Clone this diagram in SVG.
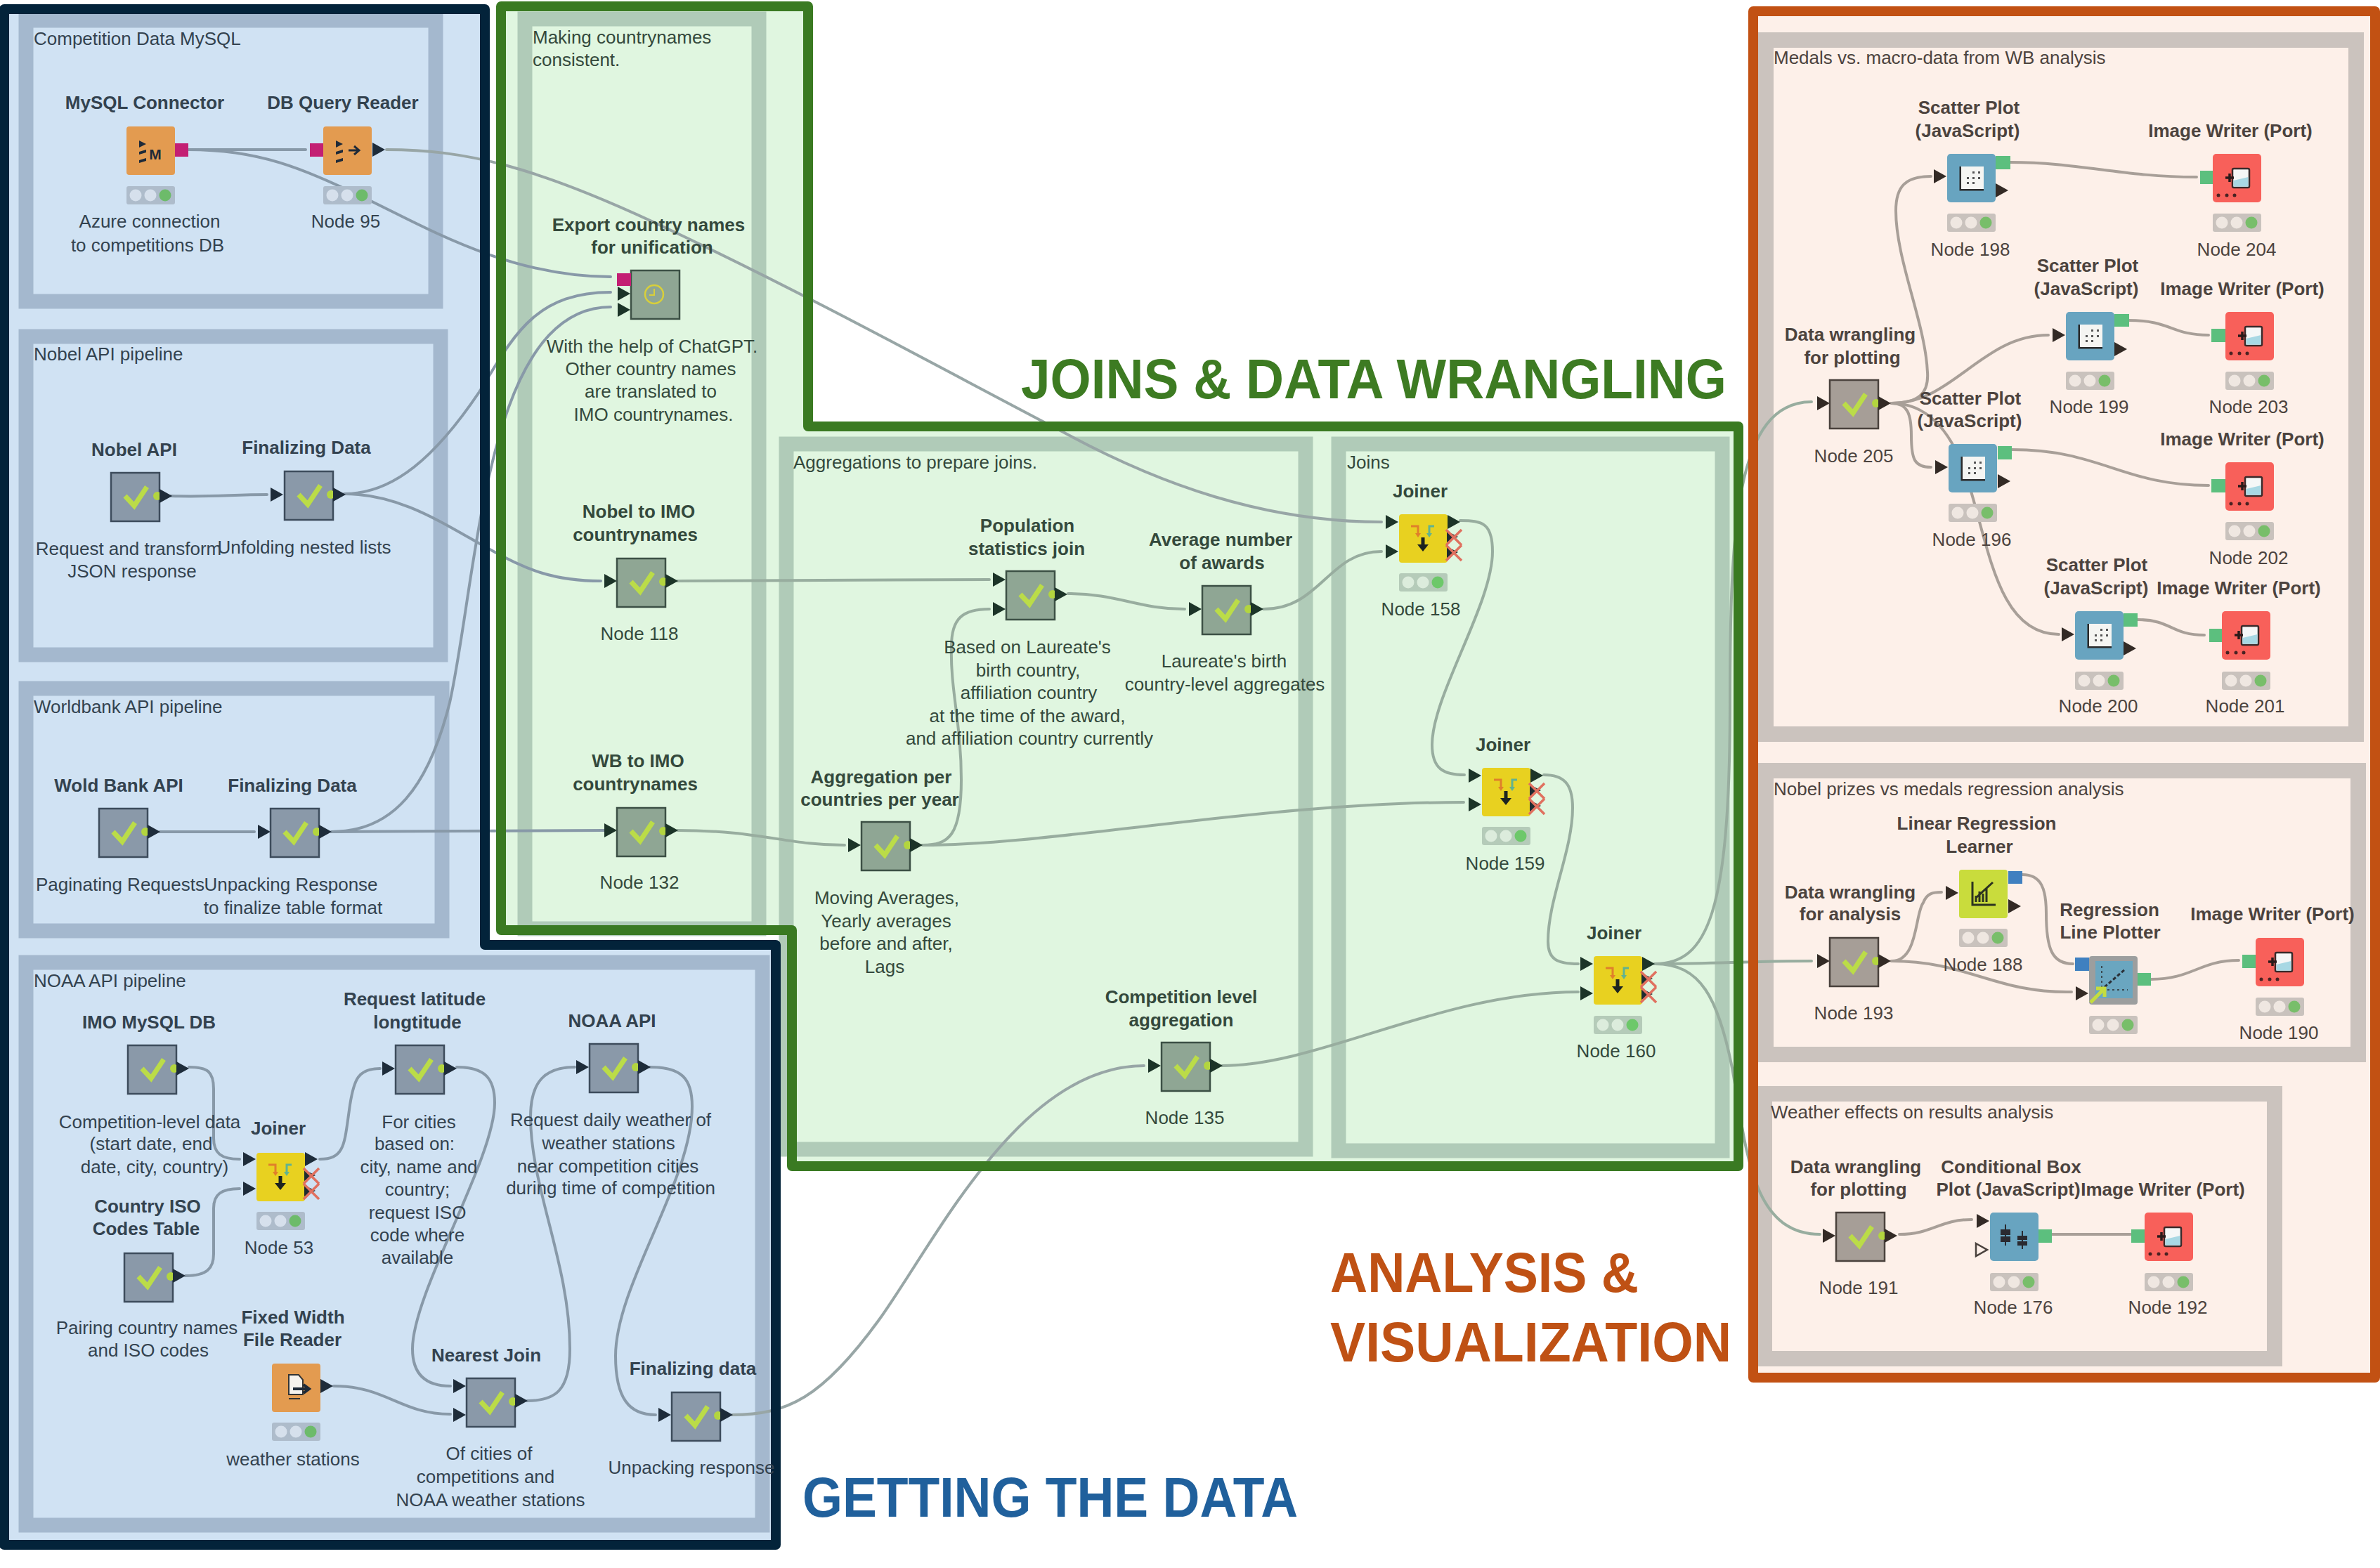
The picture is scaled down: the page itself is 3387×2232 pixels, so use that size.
<svg xmlns="http://www.w3.org/2000/svg" width="3387" height="2232" viewBox="0 0 3387 2232">
<style>
text{font-family:"Liberation Sans",Arial,sans-serif;font-size:26px;text-anchor:middle}
.b{font-weight:700}
.l{text-anchor:start}
.nb{--body:#8a99a9;--lamp:#aebccb;--off:#d6e0ec;--tri:#1e2c3a;--bd:#3d4c5c;--go:#6dbb6a}
.ng{--body:#8fa694;--lamp:#b5cbb9;--off:#dcecdc;--tri:#1c3428;--bd:#3c5045;--go:#6dc86a}
.no{--body:#a69e97;--lamp:#c9c2bd;--off:#efe7e1;--tri:#332a25;--bd:#4a423d;--go:#78be6a}
.nb text,.tb{fill:#33424f}
.ng text,.tg{fill:#34493c}
.no text,.to{fill:#4c433e}
.fb{fill:none;stroke:#a4b8ce;stroke-width:21}
.fg{fill:none;stroke:#b0cbb8;stroke-width:21}
.fo{fill:none;stroke:#cbc3be;stroke-width:22}
.c path{fill:none;stroke-width:4;stroke-linecap:round}
.cb path{stroke:#8899a8}
.cl path{stroke:#98a6a6}
.cg path{stroke:#98ad9f}
.co path{stroke:#a89f98}
.bn{fill:none;stroke:#03233a;stroke-width:14;stroke-linejoin:round}
.bg{fill:none;stroke:#3a7a22;stroke-width:14;stroke-linejoin:round}
.bo{fill:none;stroke:#c25113;stroke-width:14;stroke-linejoin:round}
.pm{fill:#c31f73}
.pg{fill:#5cbf7e}
.pb{fill:#3f80c0}
.big{font-family:"Liberation Sans",Arial,sans-serif;font-weight:700;font-size:80px;text-anchor:start}
#ti polygon{fill:var(--tri)}
#meta rect{fill:var(--body);stroke:var(--bd);stroke-width:2.5}
#lamp rect{fill:var(--lamp)}
#lamp .o{fill:var(--off)}
#lamp .g{fill:var(--go)}
</style>
<defs>
<g id="ti"><polygon points="0,-10 18,0 0,10"/></g>
<g id="hollow"><polygon points="1,-9 17,0 1,9" fill="none" stroke="#4a423d" stroke-width="2.5"/></g>
<g id="meta">
<rect width="69" height="69"/>
<path d="M20,33 L33,47 L51,20" fill="none" stroke="#bbdc48" stroke-width="7"/>
<circle cx="66" cy="33" r="6" fill="#b3d53f"/>
</g>
<g id="lamp"><rect width="69" height="26" rx="3"/><circle class="o" cx="13" cy="13" r="8.5"/><circle class="o" cx="34" cy="13" r="8.5"/><circle class="g" cx="55" cy="13" r="8.5"/></g>
<g id="dbconn"><rect width="69" height="69" rx="4" fill="#e39b50"/><path d="M18,20 l10,5 l-10,5z M18,36 l10,-3 v4 l-10,3z M18,48 l10,-3 v4 l-10,3z" fill="#1f2a38"/><text x="41" y="47" style="font-size:21px;font-weight:700;fill:#1f2a38">M</text></g>
<g id="dbread"><rect width="69" height="69" rx="4" fill="#e39b50"/><path d="M18,20 l10,5 l-10,5z M18,36 l10,-3 v4 l-10,3z M18,48 l10,-3 v4 l-10,3z" fill="#1f2a38"/><path d="M36,34 H50 M44,28 l7,6 l-7,6" fill="none" stroke="#1f2a38" stroke-width="3"/></g>
<g id="fixed"><rect width="69" height="69" rx="4" fill="#e39b50"/><path d="M24,16 H38 L44,23 V44 H24Z" fill="#f6f3ee" stroke="#333" stroke-width="2"/><path d="M30,36 H52 M45,30 l8,6 l-8,6" fill="none" stroke="#1f2a38" stroke-width="4"/><path d="M24,50 H40" stroke="#333" stroke-width="2"/></g>
<g id="clock"><rect width="69" height="69" fill="#8fa694" stroke="#3c5045" stroke-width="2.5"/><circle cx="33" cy="34" r="13" fill="none" stroke="#d8cf3a" stroke-width="2.5"/><path d="M33,26 V35 H26" fill="none" stroke="#d8cf3a" stroke-width="2"/></g>
<g id="joiner"><rect width="69" height="69" rx="4" fill="#e8d120"/><path d="M17,17 H27 V28" fill="none" stroke="#e0802a" stroke-width="3"/><path d="M23,27 h8 l-4,6z" fill="#e0802a"/><path d="M50,17 H43 V28" fill="none" stroke="#62b38f" stroke-width="3"/><path d="M39,27 h8 l-4,6z" fill="#62b38f"/><path d="M34,33 V45" stroke="#1c2320" stroke-width="5"/><path d="M26,43 H42 L34,53Z" fill="#1c2320"/><path d="M68,24 L84,32 L68,40z M68,46 L84,54 L68,62z" fill="#1e2c30"/><path d="M67,22 L89,44 M89,22 L67,44 M67,44 L89,66 M89,44 L67,66" stroke="#e0705f" stroke-width="3.5" fill="none"/></g>
<g id="scatter"><rect width="69" height="69" rx="5" fill="#68a4c0"/><path d="M19,18 V51 H52" fill="none" stroke="#2a2a2a" stroke-width="3"/><rect x="20" y="18" width="32" height="32" fill="#f5f5f2"/><path d="M36,25h3v3h-3z M44,25h3v3h-3z M28,33h3v3h-3z M36,33h3v3h-3z M44,33h3v3h-3z M28,40h3v3h-3z M36,40h3v3h-3z" fill="#555"/></g>
<g id="writer"><rect width="69" height="69" rx="5" fill="#f8605a"/><rect x="28" y="21" width="24" height="27" rx="2" fill="#f5f7f7" stroke="#3a2a2a" stroke-width="2.5"/><path d="M29.5,38 L50.5,33 V46.5 H29.5Z" fill="#a8d8e4"/><path d="M18,34 H30 M24,28 V40" stroke="#2a1a1a" stroke-width="3.5"/><circle cx="8" cy="59" r="2.5" fill="#4a2222"/><circle cx="20" cy="59" r="2.5" fill="#4a2222"/><circle cx="31" cy="59" r="2.5" fill="#4a2222"/></g>
<g id="linreg"><rect width="69" height="69" rx="4" fill="#c9dc3c"/><path d="M19,17 V50 H52" fill="none" stroke="#2c3320" stroke-width="3"/><path d="M24,46 V37 M29,46 V31 M34,46 V34 M39,46 V26 M24,40 L48,18" fill="none" stroke="#2c3320" stroke-width="3"/></g>
<g id="plotter"><rect width="69" height="69" rx="4" fill="#9c9e9e"/><rect x="9" y="7" width="53" height="53" fill="#6aa6c0"/><path d="M18,14 V48 H55" fill="none" stroke="#3a4a52" stroke-width="2" stroke-dasharray="3 4"/><path d="M22,44 L52,18" stroke="#2a3038" stroke-width="3" stroke-dasharray="5 3"/><path d="M2,66 L20,48 M10,46 H22 V58" fill="none" stroke="#c4dc40" stroke-width="5"/></g>
<g id="box"><rect width="69" height="69" rx="5" fill="#68a4c0"/><path d="M22,17 V47 M46,26 V52" stroke="#2a2a30" stroke-width="2"/><rect x="15" y="24" width="14" height="8" fill="#2a2a30"/><rect x="15" y="34" width="14" height="8" fill="#2a2a30"/><rect x="39" y="33" width="14" height="6" fill="#2a2a30"/><rect x="39" y="41" width="14" height="6" fill="#2a2a30"/></g>
</defs>

<g id="panels">
<path d="M6,13 H690 V1345 H1104 V2199 H6Z" fill="#d0e2f3"/>
<path d="M713,9 H1150 V607 H2474 V1660 H1127 V1324 H713Z" fill="#e0f6e0"/>
<path d="M2495,16 H3380 V1961 H2495Z" fill="#fdf0e9"/>
<rect class="fb" x="37" y="29" width="583" height="400"/>
<rect class="fb" x="37" y="479" width="590" height="453"/>
<rect class="fb" x="37" y="980" width="592" height="345"/>
<rect class="fb" x="37" y="1370" width="1048" height="801"/>
<rect class="fg" x="747" y="27" width="333" height="1295"/>
<rect class="fg" x="1119" y="632" width="739" height="1004"/>
<rect class="fg" x="1905" y="632" width="546" height="1006"/>
<rect class="fo" x="2513" y="57" width="840" height="988"/>
<rect class="fo" x="2513" y="1097" width="843" height="404"/>
<rect class="fo" x="2511" y="1557" width="726" height="377"/>
<text class="l tb" x="48" y="64">Competition Data MySQL</text>
<text class="l tb" x="48" y="513">Nobel API pipeline</text>
<text class="l tb" x="48" y="1015">Worldbank API pipeline</text>
<text class="l tb" x="48" y="1405">NOAA API pipeline</text>
<text class="l tg" x="758" y="62">Making countrynames</text>
<text class="l tg" x="758" y="94">consistent.</text>
<text class="l tg" x="1129" y="667">Aggregations to prepare joins.</text>
<text class="l tg" x="1917" y="667">Joins</text>
<text class="l to" x="2524" y="91">Medals vs. macro-data from WB analysis</text>
<text class="l to" x="2524" y="1132">Nobel prizes vs medals regression analysis</text>
<text class="l to" x="2520" y="1592">Weather effects on results analysis</text>
</g>

<g id="connectors" class="c">
<g class="cb">
<path d="M268,213 L435,213"/>
<path d="M268,213 C370,213 430,240 513,279 C600,320 720,394 869,394"/>
<path d="M243,706 C300,708 330,704 380,704"/>
<path d="M490,703 C560,703 620,650 682,558 C730,480 760,416 869,416"/>
<path d="M472,1184 C560,1184 610,1120 640,1000 C680,820 690,437 869,437"/>
<path d="M490,703 C570,703 630,745 697,782 C750,812 790,827 855,827"/>
<path d="M472,1184 L860,1182"/>
<path d="M227,1184 L362,1184"/>
<path d="M269,1519 C295,1519 304,1525 304,1550 L304,1620 C304,1642 315,1650 341,1650"/>
<path d="M264,1816 C295,1816 304,1805 304,1785 L304,1720 C304,1700 315,1692 341,1692"/>
<path d="M455,1650 C490,1650 490,1630 497,1580 C503,1535 510,1521 541,1521"/>
<path d="M650,1519 C690,1519 704,1535 704,1570 C704,1650 587,1840 587,1920 C587,1955 605,1973 641,1973"/>
<path d="M750,1994 C790,1994 811,1980 811,1920 C811,1800 755,1690 755,1590 C755,1540 775,1519 818,1519"/>
<path d="M925,1519 C970,1519 985,1535 985,1575 C985,1680 876,1830 876,1930 C876,1990 895,2014 933,2014"/>
<path d="M475,1973 C550,1973 570,2013 641,2013"/>
</g>
<g class="cl">
<path d="M550,213 C660,213 760,235 953,327 C1150,420 1350,530 1511,614 C1650,690 1800,743 1966,743"/>
<path d="M1042,2014 C1120,2014 1170,1990 1250,1880 C1330,1770 1450,1517 1628,1517"/>
</g>
<g class="cg">
<path d="M964,827 L1408,825"/>
<path d="M964,1182 C1080,1182 1120,1203 1202,1203"/>
<path d="M1313,1203 C1350,1203 1368,1190 1368,1110 C1368,1030 1352,980 1354,920 C1354,880 1370,867 1408,867"/>
<path d="M1313,1203 C1500,1203 1800,1142 2083,1142"/>
<path d="M1520,845 C1590,845 1620,867 1686,867"/>
<path d="M1798,867 C1880,867 1890,785 1966,785"/>
<path d="M2078,741 C2110,741 2124,745 2124,785 C2124,860 2038,990 2038,1060 C2038,1095 2055,1103 2084,1103"/>
<path d="M2197,1103 C2225,1103 2238,1115 2238,1150 C2238,1210 2203,1280 2203,1340 C2203,1365 2215,1372 2246,1372"/>
<path d="M1739,1517 C1880,1517 2050,1412 2246,1412"/>
<path d="M2355,1372 C2430,1372 2462,1300 2462,1000 C2462,750 2470,572 2578,572"/>
<path d="M2355,1372 C2450,1372 2480,1368 2578,1368"/>
<path d="M2355,1372 C2420,1372 2445,1420 2465,1520 C2485,1630 2490,1757 2590,1757"/>
</g>
<g class="co">
<path d="M2692,574 C2730,574 2745,560 2743,530 C2740,460 2698,370 2698,300 C2698,265 2712,251 2748,251"/>
<path d="M2692,574 C2780,574 2820,477 2915,477"/>
<path d="M2692,574 C2715,574 2720,590 2720,620 C2720,655 2725,665 2748,665"/>
<path d="M2692,574 C2740,574 2775,610 2797,674 C2830,770 2840,903 2930,903"/>
<path d="M2861,231 C2960,231 3020,252 3126,252"/>
<path d="M3029,456 C3090,456 3090,477 3143,477"/>
<path d="M2863,640 C2990,640 3020,691 3143,691"/>
<path d="M3042,882 C3090,882 3090,904 3137,904"/>
<path d="M2692,1368 C2730,1368 2725,1300 2737,1285 C2742,1272 2750,1270 2763,1270"/>
<path d="M2692,1368 C2800,1368 2840,1414 2948,1412"/>
<path d="M2878,1245 C2905,1245 2912,1265 2912,1300 C2912,1350 2920,1372 2950,1372"/>
<path d="M3061,1394 C3120,1394 3130,1367 3186,1367"/>
<path d="M2703,1757 C2750,1757 2760,1736 2806,1736"/>
<path d="M2920,1757 L3032,1757"/>
</g>
</g>

<g id="borders">
<path class="bn" d="M6,13 H690 V1345 H1104 V2199 H6Z"/>
<path class="bg" d="M713,9 H1150 V607 H2474 V1660 H1127 V1324 H713Z"/>
<path class="bo" d="M2495,16 H3380 V1961 H2495Z"/>
</g>

<g id="n-mysql-connector" class="nb"><use href="#dbconn" x="180" y="180"/><use href="#lamp" x="180" y="265"/><rect class="pm" x="249" y="204" width="19" height="19"/>
<text class="b" x="206" y="155">MySQL Connector</text><text x="213" y="324">Azure connection</text><text x="210" y="358">to competitions DB</text></g>
<g id="n-db-query-reader" class="nb"><use href="#dbread" x="460" y="180"/><use href="#lamp" x="460" y="265"/><rect class="pm" x="441" y="204" width="19" height="19"/><use href="#ti" x="530" y="213"/>
<text class="b" x="488" y="155">DB Query Reader</text><text x="492" y="324">Node 95</text></g>
<g id="n-nobel-api" class="nb"><use href="#meta" x="158" y="673"/><use href="#ti" x="227" y="706"/>
<text class="b" x="191" y="649">Nobel API</text><text x="183" y="790">Request and transform</text><text x="188" y="822">JSON response</text></g>
<g id="n-finalizing-nobel" class="nb"><use href="#ti" x="385" y="704"/><use href="#meta" x="405" y="671"/><use href="#ti" x="474" y="704"/>
<text class="b" x="436" y="646">Finalizing Data</text><text x="433" y="788">Unfolding nested lists</text></g>
<g id="n-wold-bank" class="nb"><use href="#meta" x="141" y="1151"/><use href="#ti" x="210" y="1184"/>
<text class="b" x="169" y="1127">Wold Bank API</text><text x="171" y="1268">Paginating Requests</text></g>
<g id="n-finalizing-wb" class="nb"><use href="#ti" x="367" y="1184"/><use href="#meta" x="385" y="1151"/><use href="#ti" x="454" y="1184"/>
<text class="b" x="416" y="1127">Finalizing Data</text><text x="414" y="1268">Unpacking Response</text><text x="417" y="1301">to finalize table format</text></g>
<g id="n-imo-mysql" class="nb"><use href="#meta" x="182" y="1488"/><use href="#ti" x="251" y="1521"/>
<text class="b" x="212" y="1464">IMO MySQL DB</text><text x="213" y="1606">Competition-level data</text><text x="215" y="1637">(start date, end</text><text x="220" y="1670">date, city, country)</text></g>
<g id="n-joiner-53" class="nb"><use href="#ti" x="346" y="1650"/><use href="#ti" x="346" y="1692"/><use href="#joiner" x="365" y="1641"/><use href="#ti" x="434" y="1650"/><use href="#lamp" x="365" y="1725"/>
<text class="b" x="396" y="1615">Joiner</text><text x="397" y="1785">Node 53</text></g>
<g id="n-country-iso" class="nb"><use href="#meta" x="177" y="1784"/><use href="#ti" x="246" y="1816"/>
<text class="b" x="210" y="1726">Country ISO</text><text class="b" x="208" y="1758">Codes Table</text><text x="209" y="1899">Pairing country names</text><text x="211" y="1931">and ISO codes</text></g>
<g id="n-request-lat" class="nb"><use href="#ti" x="544" y="1521"/><use href="#meta" x="563" y="1488"/><use href="#ti" x="632" y="1521"/>
<text class="b" x="590" y="1431">Request latitude</text><text class="b" x="594" y="1464">longtitude</text><text x="596" y="1606">For cities</text><text x="590" y="1637">based on:</text><text x="596" y="1670">city, name and</text><text x="594" y="1702">country;</text><text x="594" y="1735">request ISO</text><text x="594" y="1767">code where</text><text x="594" y="1799">available</text></g>
<g id="n-noaa-api" class="nb"><use href="#ti" x="820" y="1519"/><use href="#meta" x="839" y="1486"/><use href="#ti" x="908" y="1519"/>
<text class="b" x="871" y="1462">NOAA API</text><text x="869" y="1603">Request daily weather of</text><text x="866" y="1636">weather stations</text><text x="865" y="1669">near competition cities</text><text x="869" y="1700">during time of competition</text></g>
<g id="n-fixed-width" class="nb"><use href="#fixed" x="387" y="1941"/><use href="#ti" x="456" y="1973"/><use href="#lamp" x="387" y="2025"/>
<text class="b" x="417" y="1884">Fixed Width</text><text class="b" x="416" y="1916">File Reader</text><text x="417" y="2086">weather stations</text></g>
<g id="n-nearest-join" class="nb"><use href="#ti" x="645" y="1973"/><use href="#ti" x="645" y="2014"/><use href="#meta" x="664" y="1962"/><use href="#ti" x="733" y="1994"/>
<text class="b" x="692" y="1938">Nearest Join</text><text x="696" y="2078">Of cities of</text><text x="691" y="2111">competitions and</text><text x="698" y="2144">NOAA weather stations</text></g>
<g id="n-finalizing-noaa" class="nb"><use href="#ti" x="937" y="2014"/><use href="#meta" x="956" y="1982"/><use href="#ti" x="1025" y="2014"/>
<text class="b" x="986" y="1957">Finalizing data</text><text x="984" y="2098">Unpacking response</text></g>

<g id="n-export" class="ng"><use href="#clock" x="898" y="385"/><rect class="pm" x="878" y="389" width="20" height="18"/><use href="#ti" x="879" y="418"/><use href="#ti" x="879" y="441"/>
<text class="b" x="923" y="329">Export country names</text><text class="b" x="928" y="361">for unification</text><text x="928" y="502">With the help of ChatGPT.</text><text x="926" y="534">Other country names</text><text x="926" y="566">are translated to</text><text x="930" y="599">IMO countrynames.</text></g>
<g id="n-nobel-imo" class="ng"><use href="#ti" x="860" y="827"/><use href="#meta" x="878" y="795"/><use href="#ti" x="947" y="827"/>
<text class="b" x="909" y="737">Nobel to IMO</text><text class="b" x="904" y="770">countrynames</text><text x="910" y="911">Node 118</text></g>
<g id="n-wb-imo" class="ng"><use href="#ti" x="860" y="1182"/><use href="#meta" x="878" y="1150"/><use href="#ti" x="947" y="1182"/>
<text class="b" x="908" y="1092">WB to IMO</text><text class="b" x="904" y="1125">countrynames</text><text x="910" y="1265">Node 132</text></g>
<g id="n-pop-join" class="ng"><use href="#ti" x="1413" y="825"/><use href="#ti" x="1413" y="867"/><use href="#meta" x="1432" y="813"/><use href="#ti" x="1501" y="846"/>
<text class="b" x="1462" y="757">Population</text><text class="b" x="1461" y="790">statistics join</text><text x="1462" y="930">Based on Laureate's</text><text x="1463" y="963">birth country,</text><text x="1464" y="995">affiliation country</text><text x="1462" y="1028">at the time of the award,</text><text x="1465" y="1060">and affiliation country currently</text></g>
<g id="n-avg-awards" class="ng"><use href="#ti" x="1692" y="867"/><use href="#meta" x="1711" y="834"/><use href="#ti" x="1780" y="867"/>
<text class="b" x="1737" y="777">Average number</text><text class="b" x="1739" y="810">of awards</text><text x="1742" y="950">Laureate's birth</text><text x="1743" y="983">country-level aggregates</text></g>
<g id="n-agg-countries" class="ng"><use href="#ti" x="1207" y="1203"/><use href="#meta" x="1226" y="1170"/><use href="#ti" x="1295" y="1203"/>
<text class="b" x="1254" y="1115">Aggregation per</text><text class="b" x="1252" y="1147">countries per year</text><text x="1262" y="1287">Moving Averages,</text><text x="1261" y="1320">Yearly averages</text><text x="1261" y="1352">before and after,</text><text x="1259" y="1385">Lags</text></g>
<g id="n-comp-level" class="ng"><use href="#ti" x="1634" y="1517"/><use href="#meta" x="1653" y="1484"/><use href="#ti" x="1722" y="1517"/>
<text class="b" x="1681" y="1428">Competition level</text><text class="b" x="1681" y="1461">aggregation</text><text x="1686" y="1600">Node 135</text></g>
<g id="n-joiner-158" class="ng"><use href="#ti" x="1972" y="743"/><use href="#ti" x="1972" y="785"/><use href="#joiner" x="1991" y="732"/><use href="#ti" x="2060" y="743"/><use href="#lamp" x="1991" y="816"/>
<text class="b" x="2021" y="708">Joiner</text><text x="2022" y="876">Node 158</text></g>
<g id="n-joiner-159" class="ng"><use href="#ti" x="2090" y="1104"/><use href="#ti" x="2090" y="1145"/><use href="#joiner" x="2109" y="1093"/><use href="#ti" x="2178" y="1104"/><use href="#lamp" x="2109" y="1177"/>
<text class="b" x="2139" y="1069">Joiner</text><text x="2142" y="1238">Node 159</text></g>
<g id="n-joiner-160" class="ng"><use href="#ti" x="2249" y="1372"/><use href="#ti" x="2249" y="1414"/><use href="#joiner" x="2268" y="1361"/><use href="#ti" x="2337" y="1372"/><use href="#lamp" x="2268" y="1446"/>
<text class="b" x="2297" y="1337">Joiner</text><text x="2300" y="1505">Node 160</text></g>

<g id="n-wrangle-205" class="no"><use href="#ti" x="2586" y="574"/><use href="#meta" x="2604" y="541"/><use href="#ti" x="2673" y="574"/>
<text class="b" x="2633" y="485">Data wrangling</text><text class="b" x="2636" y="518">for plotting</text><text x="2638" y="658">Node 205</text></g>
<g id="n-scatter-198" class="no"><use href="#ti" x="2752" y="251"/><use href="#scatter" x="2771" y="219"/><rect class="pg" x="2840" y="222" width="21" height="19"/><use href="#ti" x="2840" y="271"/><use href="#lamp" x="2771" y="304"/>
<text class="b" x="2802" y="162">Scatter Plot</text><text class="b" x="2800" y="195">(JavaScript)</text><text x="2804" y="364">Node 198</text></g>
<g id="n-writer-204" class="no"><rect class="pg" x="3131" y="243" width="18" height="19"/><use href="#writer" x="3149" y="219"/><use href="#lamp" x="3149" y="304"/>
<text class="b" x="3174" y="195">Image Writer (Port)</text><text x="3183" y="364">Node 204</text></g>
<g id="n-scatter-199" class="no"><use href="#ti" x="2921" y="477"/><use href="#scatter" x="2940" y="444"/><rect class="pg" x="3009" y="447" width="21" height="18"/><use href="#ti" x="3009" y="497"/><use href="#lamp" x="2940" y="529"/>
<text class="b" x="2971" y="387">Scatter Plot</text><text class="b" x="2969" y="420">(JavaScript)</text><text x="2973" y="588">Node 199</text></g>
<g id="n-writer-203" class="no"><rect class="pg" x="3147" y="468" width="20" height="19"/><use href="#writer" x="3167" y="444"/><use href="#lamp" x="3167" y="529"/>
<text class="b" x="3191" y="420">Image Writer (Port)</text><text x="3200" y="588">Node 203</text></g>
<g id="n-scatter-196" class="no"><use href="#ti" x="2754" y="665"/><use href="#scatter" x="2773" y="632"/><rect class="pg" x="2843" y="635" width="20" height="19"/><use href="#ti" x="2843" y="685"/><use href="#lamp" x="2773" y="717"/>
<text class="b" x="2804" y="576">Scatter Plot</text><text class="b" x="2803" y="608">(JavaScript)</text><text x="2806" y="777">Node 196</text></g>
<g id="n-writer-202" class="no"><rect class="pg" x="3147" y="682" width="20" height="19"/><use href="#writer" x="3167" y="658"/><use href="#lamp" x="3167" y="743"/>
<text class="b" x="3191" y="634">Image Writer (Port)</text><text x="3200" y="803">Node 202</text></g>
<g id="n-scatter-200" class="no"><use href="#ti" x="2934" y="903"/><use href="#scatter" x="2953" y="870"/><rect class="pg" x="3022" y="873" width="20" height="19"/><use href="#ti" x="3022" y="923"/><use href="#lamp" x="2953" y="956"/>
<text class="b" x="2984" y="813">Scatter Plot</text><text class="b" x="2983" y="846">(JavaScript)</text><text x="2986" y="1014">Node 200</text></g>
<g id="n-writer-201" class="no"><rect class="pg" x="3144" y="895" width="18" height="19"/><use href="#writer" x="3162" y="870"/><use href="#lamp" x="3162" y="956"/>
<text class="b" x="3186" y="846">Image Writer (Port)</text><text x="3195" y="1014">Node 201</text></g>

<g id="n-wrangle-193" class="no"><use href="#ti" x="2586" y="1368"/><use href="#meta" x="2604" y="1335"/><use href="#ti" x="2673" y="1368"/>
<text class="b" x="2633" y="1279">Data wrangling</text><text class="b" x="2633" y="1310">for analysis</text><text x="2638" y="1451">Node 193</text></g>
<g id="n-linreg-188" class="no"><use href="#ti" x="2769" y="1271"/><use href="#linreg" x="2788" y="1238"/><rect class="pb" x="2858" y="1240" width="20" height="18"/><use href="#ti" x="2858" y="1290"/><use href="#lamp" x="2788" y="1322"/>
<text class="b" x="2813" y="1181">Linear Regression</text><text class="b" x="2817" y="1214">Learner</text><text x="2822" y="1382">Node 188</text></g>
<g id="n-plotter" class="no"><rect class="pb" x="2953" y="1363" width="20" height="19"/><use href="#ti" x="2954" y="1414"/><use href="#plotter" x="2973" y="1361"/><rect class="pg" x="3042" y="1385" width="19" height="18"/><use href="#lamp" x="2973" y="1446"/>
<text class="b" x="3002" y="1304">Regression</text><text class="b" x="3003" y="1336">Line Plotter</text></g>
<g id="n-writer-190" class="no"><rect class="pg" x="3191" y="1359" width="19" height="19"/><use href="#writer" x="3210" y="1335"/><use href="#lamp" x="3210" y="1420"/>
<text class="b" x="3234" y="1310">Image Writer (Port)</text><text x="3243" y="1479">Node 190</text></g>
<g id="n-wrangle-191" class="no"><use href="#ti" x="2594" y="1759"/><use href="#meta" x="2613" y="1726"/><use href="#ti" x="2682" y="1759"/>
<text class="b" x="2641" y="1670">Data wrangling</text><text class="b" x="2645" y="1702">for plotting</text><text x="2645" y="1842">Node 191</text></g>
<g id="n-box-176" class="no"><use href="#ti" x="2813" y="1738"/><use href="#hollow" x="2811" y="1779"/><use href="#box" x="2832" y="1726"/><rect class="pg" x="2901" y="1750" width="19" height="19"/><use href="#lamp" x="2832" y="1812"/>
<text class="b" x="2862" y="1670">Conditional Box</text><text class="b" x="2858" y="1702">Plot (JavaScript)</text><text x="2865" y="1870">Node 176</text></g>
<g id="n-writer-192" class="no"><rect class="pg" x="3033" y="1750" width="19" height="19"/><use href="#writer" x="3052" y="1726"/><use href="#lamp" x="3052" y="1812"/>
<text class="b" x="3078" y="1702">Image Writer (Port)</text><text x="3085" y="1870">Node 192</text></g>

<g id="headings">
<text class="big" x="1142" y="2159" fill="#20609c" textLength="705" lengthAdjust="spacingAndGlyphs">GETTING THE DATA</text>
<text class="big" x="1453" y="567" fill="#3d7b22" textLength="1004" lengthAdjust="spacingAndGlyphs">JOINS &amp; DATA WRANGLING</text>
<text class="big" x="1893" y="1839" fill="#bf5114" textLength="439" lengthAdjust="spacingAndGlyphs">ANALYSIS &amp;</text>
<text class="big" x="1893" y="1938" fill="#bf5114" textLength="571" lengthAdjust="spacingAndGlyphs">VISUALIZATION</text>
</g>
</svg>
